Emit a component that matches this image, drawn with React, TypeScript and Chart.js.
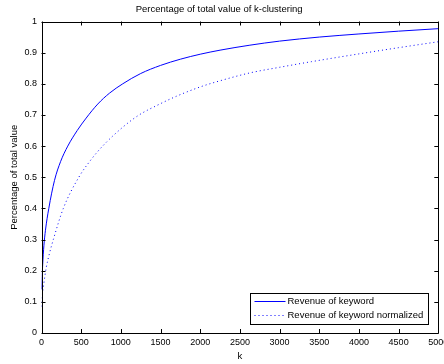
import React, { useEffect, useRef } from "react";
import { Chart, registerables } from "chart.js";

Chart.register(...registerables);

const titleText = "Percentage of total value of k-clustering";
const xTitle = "k";
const yTitle = "Percentage of total value";

const seriesNames = ["Revenue of keyword", "Revenue of keyword normalized"];

const kRevenue = [1, 15, 30, 50, 92, 164, 240, 331, 450, 563, 709, 857, 1024, 1250, 1500, 1750, 2000, 2250, 2626, 3000, 3500, 4000, 4500, 5000];
const revenue = [0.14, 0.22, 0.28, 0.33, 0.4, 0.49, 0.55, 0.6, 0.65, 0.69, 0.735, 0.77, 0.8, 0.833, 0.859, 0.879, 0.895, 0.908, 0.924, 0.937, 0.95, 0.96, 0.969, 0.977];

const kNormalized = [1, 10, 30, 60, 100, 149, 275, 470, 620, 770, 1030, 1230, 1450, 1700, 2000, 2200, 2626, 3000, 3400, 4000, 4500, 5000];
const revenueNormalized = [0.085, 0.12, 0.16, 0.21, 0.255, 0.3, 0.4, 0.5, 0.555, 0.6, 0.662, 0.7, 0.73, 0.76, 0.79, 0.806, 0.835, 0.853, 0.871, 0.896, 0.916, 0.935];

const xMin = 0;
const xMax = 5000;
const xStep = 500;
const yMin = 0;
const yMax = 1;
const yStep = 0.1;

const FONT = "Arial, 'Liberation Sans', Helvetica, sans-serif";

const boxPlugin = {
  id: "matlabBox",
  afterDatasetsDraw(chart: any) {
    const { ctx, chartArea } = chart;
    const { left, right, top, bottom } = chartArea;
    const xs = chart.scales.x;
    const ys = chart.scales.y;
    const tl = 4;
    ctx.save();
    ctx.strokeStyle = "#000";
    ctx.lineWidth = 1;
    ctx.beginPath();
    ctx.rect(Math.round(left) + 0.5, Math.round(top) + 0.5, Math.round(right) - Math.round(left), Math.round(bottom) - Math.round(top));
    ctx.stroke();
    ctx.beginPath();
    xs.ticks.forEach((t: any) => {
      const px = Math.round(xs.getPixelForValue(t.value)) + 0.5;
      ctx.moveTo(px, bottom);
      ctx.lineTo(px, bottom - tl);
      ctx.moveTo(px, top);
      ctx.lineTo(px, top + tl);
    });
    ys.ticks.forEach((t: any) => {
      const py = Math.round(ys.getPixelForValue(t.value)) + 0.5;
      ctx.moveTo(left, py);
      ctx.lineTo(left + tl, py);
      ctx.moveTo(right, py);
      ctx.lineTo(right - tl, py);
    });
    ctx.stroke();

    // legend box
    const lx = 250.5, ly = 293.5, lw = 178, lh = 31;
    ctx.fillStyle = "#fff";
    ctx.fillRect(lx, ly, lw, lh);
    ctx.strokeRect(lx, ly, lw, lh);
    ctx.font = "9.5px " + FONT;
    ctx.textBaseline = "middle";
    ctx.textAlign = "left";
    chart.data.datasets.forEach((ds: any, i: number) => {
      const rowY = ly + 8 + i * 14;
      ctx.strokeStyle = ds.borderColor;
      ctx.lineWidth = 1;
      ctx.setLineDash(ds.borderDash || []);
      ctx.beginPath();
      ctx.moveTo(lx + 4, rowY);
      ctx.lineTo(lx + 35, rowY);
      ctx.stroke();
      ctx.setLineDash([]);
      ctx.fillStyle = "#000";
      ctx.fillText(ds.label, lx + 37, rowY);
    });
    ctx.restore();
  },
};

export default function App() {
  const ref = useRef<HTMLCanvasElement | null>(null);
  useEffect(() => {
    if (!ref.current) return;
    const chart = new Chart(ref.current, {
      type: "line",
      data: {
        datasets: [
          {
            label: seriesNames[0],
            data: kRevenue.map((k, i) => ({ x: k, y: revenue[i] })),
            borderColor: "#0000ff",
            borderWidth: 1,
            pointRadius: 0,
            cubicInterpolationMode: "monotone",
            fill: false,
          },
          {
            label: seriesNames[1],
            data: kNormalized.map((k, i) => ({ x: k, y: revenueNormalized[i] })),
            borderColor: "#0000ff",
            borderWidth: 1,
            borderDash: [1, 3],
            pointRadius: 0,
            cubicInterpolationMode: "monotone",
            fill: false,
          },
        ],
      },
      options: {
        animation: false,
        responsive: false,
        devicePixelRatio: 1,
        layout: { padding: { left: 0, right: 5.7, top: 0, bottom: 0 } },
        plugins: {
          legend: { display: false },
          tooltip: { enabled: false },
          title: {
            display: true,
            text: titleText,
            color: "#000",
            font: { family: FONT, size: 9.5, weight: "normal", lineHeight: 1.2 },
            padding: { top: 4, bottom: 6.1 },
          },
        },
        scales: {
          x: {
            type: "linear",
            min: xMin,
            max: xMax,
            grid: { display: false, drawTicks: false },
            border: { display: false },
            ticks: {
              stepSize: xStep,
              autoSkip: false,
              maxRotation: 0,
              color: "#000",
              padding: 4,
              font: { family: FONT, size: 9 },
              callback: (v: any) => String(v),
            },
            title: {
              display: true,
              text: xTitle,
              color: "#000",
              font: { family: FONT, size: 9.5, lineHeight: 1.2 },
              padding: { top: 0, bottom: 1.6 },
            },
            afterFit: (s: any) => {
              s.height = 31;
              s.paddingLeft = 0;
              s.paddingRight = 0;
            },
          },
          y: {
            type: "linear",
            min: yMin,
            max: yMax,
            grid: { display: false, drawTicks: false },
            border: { display: false },
            ticks: {
              stepSize: yStep,
              autoSkip: false,
              color: "#000",
              padding: 4.5,
              font: { family: FONT, size: 9 },
              callback: (v: any) => String(Math.round(Number(v) * 10) / 10),
            },
            title: {
              display: true,
              text: yTitle,
              color: "#000",
              font: { family: FONT, size: 9.5, lineHeight: 1.2 },
              padding: { top: 8.3, bottom: 0 },
            },
            afterFit: (s: any) => {
              s.width = 41.5;
              s.paddingTop = 0;
              s.paddingBottom = 0;
            },
          },
        },
      },
      plugins: [boxPlugin],
    });
    return () => chart.destroy();
  }, []);
  return (
    <div style={{ position: "fixed", left: 0, top: 0, width: 444, height: 364, background: "#fff" }}>
      <canvas ref={ref} width={444} height={364} style={{ width: 444, height: 364, display: "block" }} />
    </div>
  );
}
